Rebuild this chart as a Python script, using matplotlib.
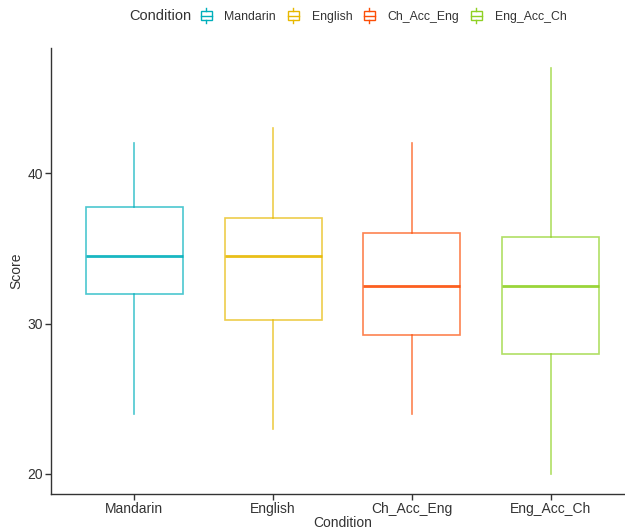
import matplotlib
matplotlib.use("Agg")
import matplotlib.pyplot as plt
from matplotlib.patches import Rectangle, Patch
from matplotlib.lines import Line2D
from matplotlib.legend_handler import HandlerBase

conditions = ["Mandarin", "English", "Ch_Acc_Eng", "Eng_Acc_Ch"]
whislo = [24, 23, 24, 20]
q1 = [32.0, 30.25, 29.25, 28.0]
med = [34.5, 34.5, 32.5, 32.5]
q3 = [37.75, 37.0, 36.0, 35.75]
whishi = [42, 43, 42, 47]
colors = ["#00AFBB", "#E7B800", "#FC4E07", "#8FD124"]

plt.rcParams['font.family'] = ['Liberation Sans', 'DejaVu Sans']
textcol = "#333333"


class BoxHandler(HandlerBase):
  # small boxplot glyph for the legend keys
  def create_artists(self, legend, orig_handle, xdescent, ydescent,
                     width, height, fontsize, trans):
    col = orig_handle.get_edgecolor()
    cx = width / 2 - xdescent
    bw = width * 0.9
    rect = Rectangle((cx - bw / 2, -ydescent + height * 0.15), bw, height * 0.7,
                     facecolor="white", edgecolor=col, lw=1.0, transform=trans)
    mid = Line2D([cx - bw / 2, cx + bw / 2], [height / 2 - ydescent] * 2,
                 color=col, lw=1.0, transform=trans)
    top = Line2D([cx, cx], [-ydescent + height * 0.85, -ydescent + height * 1.05],
                 color=col, lw=1.0, transform=trans)
    bot = Line2D([cx, cx], [-ydescent - height * 0.05, -ydescent + height * 0.15],
                 color=col, lw=1.0, transform=trans)
    return [rect, mid, top, bot]


fig = plt.figure(figsize=(6.25, 5.31), dpi=100)
ax = fig.add_axes([51 / 625, 1 - 494 / 531, 583 / 625, 446 / 531])

stats = []
for i, name in enumerate(conditions):
  stats.append(dict(label=name, whislo=whislo[i], q1=q1[i], med=med[i],
                    q3=q3[i], whishi=whishi[i], fliers=[]))

bp = ax.bxp(stats, positions=range(1, len(conditions) + 1), widths=0.7,
            showcaps=False, showfliers=False, patch_artist=True)
for i, c in enumerate(colors):
  bp['boxes'][i].set_facecolor("white")
  bp['boxes'][i].set_edgecolor(c)
  bp['boxes'][i].set_alpha(0.7)
  bp['boxes'][i].set_linewidth(1.2)
  bp['medians'][i].set_color(c)
  bp['medians'][i].set_alpha(0.9)
  bp['medians'][i].set_linewidth(2.0)
  for w in bp['whiskers'][2 * i:2 * i + 2]:
    w.set_color(c)
    w.set_alpha(0.7)
    w.set_linewidth(1.2)

lo = min(whislo)
hi = max(whishi)
pad = (hi - lo) * 0.05
ax.set_ylim(lo - pad, hi + pad)
ax.set_xlim(0.4, len(conditions) + 0.6)
ax.set_yticks([20, 30, 40])

for s in ["top", "right"]:
  ax.spines[s].set_visible(False)
for s in ["left", "bottom"]:
  ax.spines[s].set_color("#333333")
  ax.spines[s].set_linewidth(1.0)
ax.tick_params(colors="#333333", labelcolor=textcol, labelsize=10, length=4,
               width=1.0, pad=1.5)

ax.set_xlabel("Condition", fontsize=10, color=textcol, labelpad=0)
ax.set_ylabel("Score", fontsize=10, color=textcol, labelpad=3)

fig.text(129 / 625, 1 - 16 / 531, "Condition", fontsize=10.5, color=textcol,
         ha="left", va="center")
handles = [Patch(facecolor="white", edgecolor=c) for c in colors]
leg = fig.legend(handles, conditions, handler_map={Patch: BoxHandler()},
                 loc="center left", bbox_to_anchor=(200 / 625, 1 - 16 / 531),
                 ncol=4, frameon=False, fontsize=8.8, handlelength=1.0,
                 handleheight=1.3, handletextpad=1.0, columnspacing=0.9,
                 borderaxespad=0, borderpad=0)
for t in leg.get_texts():
  t.set_color(textcol)

fig.savefig("out.png", dpi=100)
